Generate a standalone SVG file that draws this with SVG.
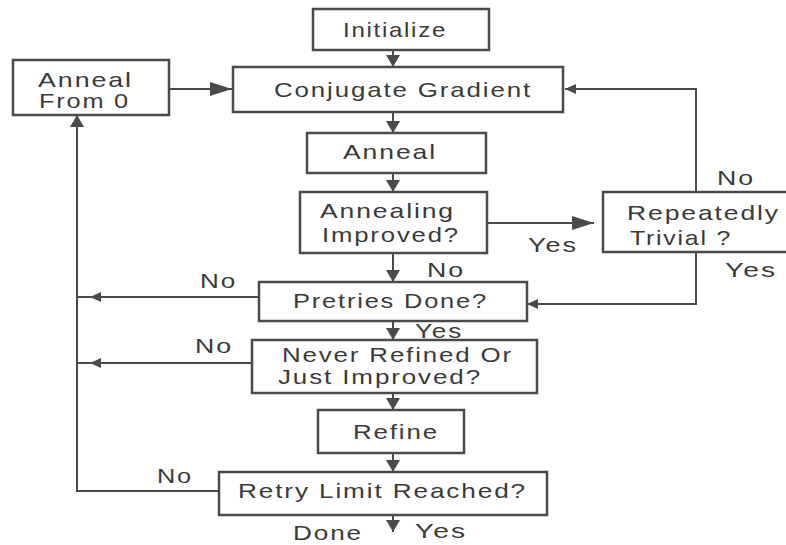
<svg xmlns="http://www.w3.org/2000/svg" width="786" height="545" viewBox="0 0 786 545">
<defs>
<style>
.box{fill:#fff;stroke:#4a4a4a;stroke-width:2.5}
.ln{fill:none;stroke:#4a4a4a;stroke-width:2}
text{font-family:"Liberation Sans",Arial,sans-serif;font-size:21px;letter-spacing:1.5px;fill:#3a3a3a}
</style>
<marker id="ad" viewBox="0 0 12 14" refX="12" refY="7" markerWidth="12" markerHeight="14" orient="auto" markerUnits="userSpaceOnUse"><path d="M0,0 L12,7 L0,14 z" fill="#4a4a4a"/></marker>
<marker id="al" viewBox="0 0 22 14" refX="22" refY="7" markerWidth="22" markerHeight="14" orient="auto" markerUnits="userSpaceOnUse"><path d="M0,0 L22,7 L0,14 z" fill="#4a4a4a"/></marker>
<marker id="as" viewBox="0 0 11 10" refX="11" refY="5" markerWidth="11" markerHeight="10" orient="auto" markerUnits="userSpaceOnUse"><path d="M0,0 L11,5 L0,10 z" fill="#4a4a4a"/></marker>
</defs>
<rect width="786" height="545" fill="#fff"/>
<g id="connectors">
<path class="ln" d="M393,50 V67" marker-end="url(#ad)"/>
<path class="ln" d="M393,112 V133" marker-end="url(#ad)"/>
<path class="ln" d="M393,173 V192" marker-end="url(#ad)"/>
<path class="ln" d="M393,253 V282" marker-end="url(#ad)"/>
<path class="ln" d="M393,321 V340" marker-end="url(#ad)"/>
<path class="ln" d="M393,393 V410" marker-end="url(#ad)"/>
<path class="ln" d="M393,453 V472" marker-end="url(#ad)"/>
<path class="ln" d="M393,515 V532" marker-end="url(#ad)"/>
<path class="ln" d="M169,89 H232" marker-end="url(#al)"/>
<path class="ln" d="M487,223 H594" marker-end="url(#al)"/>
<path class="ln" d="M696,192 V89 H565" marker-end="url(#as)"/>
<path class="ln" d="M696,252 V304 H527" marker-end="url(#as)"/>
<path class="ln" d="M259,297 H90" marker-end="url(#as)"/>
<path class="ln" d="M90,297 H77"/>
<path class="ln" d="M252,363 H90" marker-end="url(#as)"/>
<path class="ln" d="M90,363 H77"/>
<path class="ln" d="M219,491 H77 V115" marker-end="url(#ad)"/>
<text x="200" y="288" textLength="37" lengthAdjust="spacingAndGlyphs">No</text>
<text x="195" y="353" textLength="38" lengthAdjust="spacingAndGlyphs">No</text>
<text x="157" y="483" textLength="36" lengthAdjust="spacingAndGlyphs">No</text>
<text x="528" y="252" textLength="50" lengthAdjust="spacingAndGlyphs">Yes</text>
<text x="427" y="277" textLength="38" lengthAdjust="spacingAndGlyphs">No</text>
<text x="415" y="338" textLength="48" lengthAdjust="spacingAndGlyphs">Yes</text>
<text x="717" y="185" textLength="38" lengthAdjust="spacingAndGlyphs">No</text>
<text x="725" y="277" textLength="52" lengthAdjust="spacingAndGlyphs">Yes</text>
<text x="293" y="540" textLength="70" lengthAdjust="spacingAndGlyphs">Done</text>
<text x="415" y="538" textLength="52" lengthAdjust="spacingAndGlyphs">Yes</text>
</g>
<g id="initialize">
<rect class="box" x="313" y="9" width="176" height="41"/>
<text x="343" y="37" textLength="104" lengthAdjust="spacingAndGlyphs">Initialize</text>
</g>
<g id="conjugate-gradient">
<rect class="box" x="233" y="67" width="330" height="45"/>
<text x="274" y="97" textLength="258" lengthAdjust="spacingAndGlyphs">Conjugate Gradient</text>
</g>
<g id="anneal-from-0">
<rect class="box" x="13" y="60" width="156" height="55"/>
<text x="38" y="87" textLength="95" lengthAdjust="spacingAndGlyphs">Anneal</text>
<text x="39" y="108" textLength="91" lengthAdjust="spacingAndGlyphs">From 0</text>
</g>
<g id="anneal">
<rect class="box" x="307" y="133" width="179" height="40"/>
<text x="343" y="159" textLength="94" lengthAdjust="spacingAndGlyphs">Anneal</text>
</g>
<g id="annealing-improved">
<rect class="box" x="300" y="192" width="187" height="61"/>
<text x="320" y="218" textLength="135" lengthAdjust="spacingAndGlyphs">Annealing</text>
<text x="322" y="242" textLength="138" lengthAdjust="spacingAndGlyphs">Improved?</text>
</g>
<g id="repeatedly-trivial">
<rect class="box" x="603" y="192" width="200" height="60"/>
<text x="627" y="220" textLength="153" lengthAdjust="spacingAndGlyphs">Repeatedly</text>
<text x="630" y="245" textLength="102" lengthAdjust="spacingAndGlyphs">Trivial ?</text>
</g>
<g id="pretries-done">
<rect class="box" x="259" y="282" width="268" height="39"/>
<text x="293" y="308" textLength="195" lengthAdjust="spacingAndGlyphs">Pretries Done?</text>
</g>
<g id="never-refined">
<rect class="box" x="252" y="340" width="285" height="53"/>
<text x="282" y="362" textLength="231" lengthAdjust="spacingAndGlyphs">Never Refined Or</text>
<text x="278" y="384" textLength="204" lengthAdjust="spacingAndGlyphs">Just Improved?</text>
</g>
<g id="refine">
<rect class="box" x="318" y="410" width="146" height="43"/>
<text x="353" y="439" textLength="86" lengthAdjust="spacingAndGlyphs">Refine</text>
</g>
<g id="retry-limit">
<rect class="box" x="219" y="472" width="328" height="43"/>
<text x="238" y="498" textLength="289" lengthAdjust="spacingAndGlyphs">Retry Limit Reached?</text>
</g>
</svg>
